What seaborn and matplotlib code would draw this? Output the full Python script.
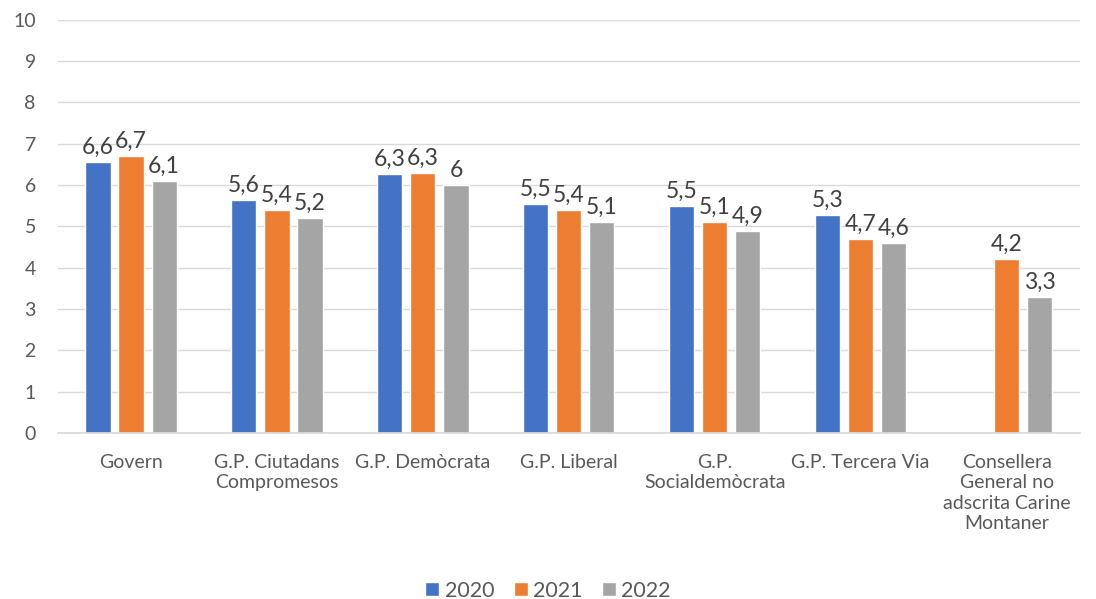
import matplotlib
matplotlib.use("Agg")
import matplotlib.pyplot as plt
import numpy as np
import pandas as pd
import seaborn as sns

# Dades llegides del gràfic
categories = [
    "Govern",
    "G.P. Ciutadans\nCompromesos",
    "G.P. Demòcrata",
    "G.P. Liberal",
    "G.P.\nSocialdemòcrata",
    "G.P. Tercera Via",
    "Consellera\nGeneral no\nadscrita Carine\nMontaner",
]
years = ["2020", "2021", "2022"]
values_2020 = [6.57, 5.63, 6.27, 5.54, 5.5, 5.28, np.nan]
values_2021 = [6.7, 5.4, 6.3, 5.4, 5.1, 4.7, 4.2]
values_2022 = [6.1, 5.2, 6.0, 5.1, 4.9, 4.6, 3.3]
colors = ["#4472C4", "#ED7D31", "#A5A5A5"]


def format_label(v: float) -> str:
    """Format amb coma decimal, sense ',0'."""
    text = f"{v:.1f}".replace(".", ",")
    return text[:-2] if text.endswith(",0") else text


df = pd.DataFrame(
    {
        "categoria": categories * 3,
        "any": sum([[y] * len(categories) for y in years], []),
        "valor": values_2020 + values_2021 + values_2022,
    }
)

sns.set_theme(style="white")
plt.rcParams["font.family"] = ["Lato", "DejaVu Sans"]

fig = plt.figure(figsize=(10.96, 5.99), dpi=100)
ax = fig.add_axes([0.053, 0.277, 0.932, 0.69])

sns.barplot(
    data=df,
    x="categoria",
    y="valor",
    hue="any",
    order=categories,
    hue_order=years,
    palette=colors,
    width=0.68,
    gap=0.24,
    saturation=1,
    ax=ax,
)

for container in ax.containers:
    ax.bar_label(container, fmt=format_label, padding=3, fontsize=16.5, color="#404040")

ax.set_ylim(0, 10)
ax.set_yticks(range(0, 11))
ax.set_xlim(-0.5, len(categories) - 0.5)
ax.yaxis.grid(True, color="#D9D9D9", linewidth=1)
ax.set_axisbelow(True)
ax.set_xlabel("")
ax.set_ylabel("")
for side in ["top", "right", "left"]:
    ax.spines[side].set_visible(False)
ax.spines["bottom"].set_color("#D9D9D9")
ax.tick_params(axis="both", length=0, labelsize=14, colors="#595959")
ax.tick_params(axis="x", pad=15)
ax.tick_params(axis="y", pad=16)
for lbl in ax.get_xticklabels():
    lbl.set_linespacing(1.25)
    lbl.set_verticalalignment("top")

handles, labels = ax.get_legend_handles_labels()
ax.get_legend().remove()
fig.legend(
    handles,
    labels,
    loc="lower center",
    bbox_to_anchor=(0.5, -0.035),
    ncol=3,
    frameon=False,
    fontsize=15.5,
    handlelength=0.65,
    handleheight=0.65,
    handletextpad=0.25,
    columnspacing=0.9,
    labelcolor="#595959",
)

fig.savefig("out.png", dpi=100)
